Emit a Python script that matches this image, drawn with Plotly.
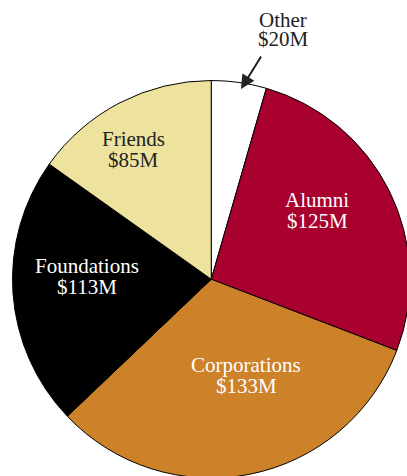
import plotly.graph_objects as go

# Figure slightly larger than the 407x476 window: the pie runs past the right
# and bottom edges, as in the reference. Body margin/scrollbars removed below.
W, H = 410, 478

categories = ["Other", "Alumni", "Corporations", "Foundations", "Friends"]
amounts = [20, 125, 133, 113, 85]  # $M, as labelled
# slice sizes as drawn in the reference (degrees)
slice_sizes = [16.1, 94.9, 115.4, 79.0, 54.6]
colors = ["#FFFFFF", "#A8002F", "#CD8128", "#000000", "#EDE29E"]
text_colors = ["#222222", "#FFFFFF", "#FFFFFF", "#FFFFFF", "#222222"]
value_labels = [f"${v}M" for v in amounts]

# label positions in window pixels (x centre, name-line centre, value-line centre)
label_pos = {
    "Other": (283, 20, 39),
    "Alumni": (317, 200, 221),
    "Corporations": (246, 365, 386),
    "Foundations": (87, 266, 287),
    "Friends": (133, 139, 160),
}


def px_x(px):
    return px / W


def px_y(py):
    return 1 - py / H


fig = go.Figure()
fig.add_trace(go.Pie(
    labels=categories,
    values=slice_sizes,
    customdata=amounts,
    sort=False,
    direction="clockwise",
    rotation=0,
    marker=dict(colors=colors, line=dict(color="#000000", width=1)),
    textinfo="none",
    hovertemplate="%{label}: $%{customdata}M<extra></extra>",
    showlegend=False,
    # pie centre at window (211, 279), radius ~198.5
    domain=dict(x=[px_x(12.5), 1.0], y=[0.0, px_y(80.5)]),
))

font_family = "Liberation Serif, Times New Roman, serif"
annotations = []
for cat, vl, tc in zip(categories, value_labels, text_colors):
    px, y1, y2 = label_pos[cat]
    for txt, py in ((cat, y1), (vl, y2)):
        annotations.append(dict(
            x=px_x(px), y=px_y(py), xref="paper", yref="paper",
            text=txt, showarrow=False, xanchor="center", yanchor="middle",
            font=dict(family=font_family, size=21, color=tc),
        ))

# arrow pointing at the "Other" slice
annotations.append(dict(
    x=px_x(241), y=px_y(89), xref="paper", yref="paper",
    text="", showarrow=True, ax=21, ay=-34,
    arrowhead=2, arrowsize=1.4, arrowwidth=2.0, arrowcolor="#222222",
))

fig.update_layout(
    width=W, height=H,
    margin=dict(l=0, r=0, t=0, b=0),
    paper_bgcolor="#FFFFFF",
    plot_bgcolor="#FFFFFF",
    annotations=annotations,
)

fig.write_html(
    "out.html",
    config={"displayModeBar": False},
    post_script="document.body.style.margin='0';"
                "document.documentElement.style.overflow='hidden';"
                "document.body.style.overflow='hidden';",
)
